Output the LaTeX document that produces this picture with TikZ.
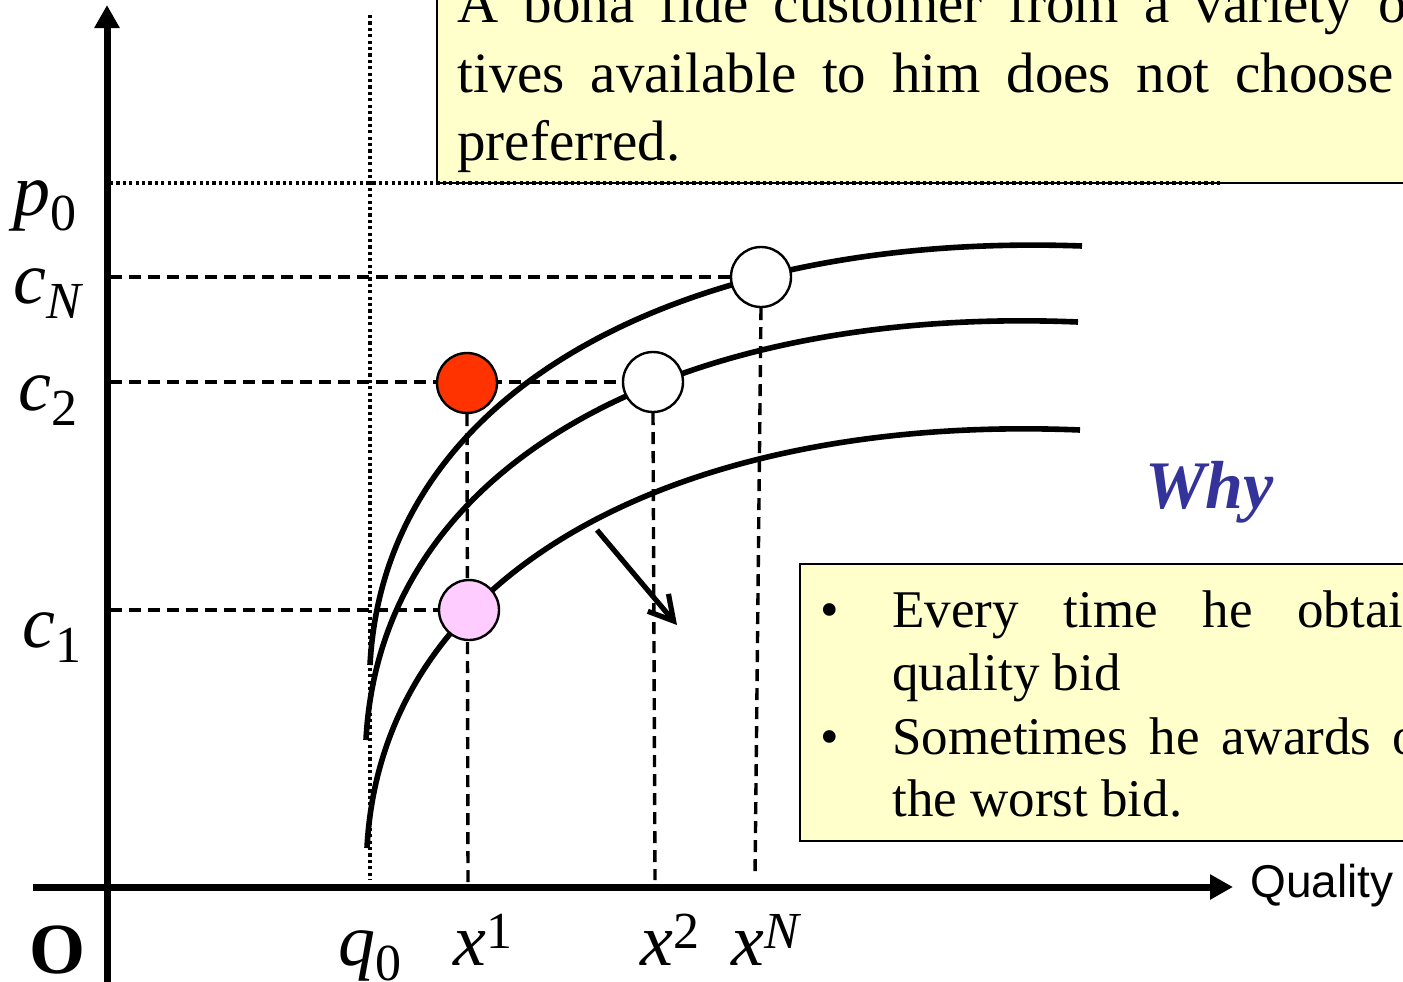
\documentclass[tikz,border=0pt]{standalone}
\usepackage{fontspec}
\setmainfont{Liberation Serif}
\newfontfamily\arialf{Liberation Sans}
\usetikzlibrary{arrows.meta}
\definecolor{boxyellow}{HTML}{FFFFCC}
\definecolor{whyblue}{HTML}{333399}
\definecolor{redpt}{HTML}{FF3300}
\definecolor{pinkpt}{HTML}{FFCCFF}
\newcommand\mainsz{\fontsize{37}{40}\selectfont}
\newcommand\scrsz{\fontsize{26}{28}\selectfont}
\newcommand\lbsub[1]{\raisebox{-7.5pt}{\scrsz #1}}
\newcommand\lbsup[1]{\raisebox{8.5pt}{\scrsz #1}}
\pgfdeclarelayer{back}
\pgfsetlayers{back,main}
\begin{document}
\begin{tikzpicture}[x=0.5pt,y=-0.5pt,
  axisline/.style={line width=3.5pt},
  curveline/.style={line width=2.8pt},
  guide/.style={line width=1.7pt, dash pattern=on 6pt off 3.5pt},
  dotguide/.style={line width=1.8pt, dash pattern=on 1.6pt off 1.6pt},
  ptnode/.style={circle, draw, line width=1.2pt, minimum size=30pt, inner sep=0pt},
  lbl/.style={inner sep=0pt, anchor=base west, font=\mainsz},
  boxtxt/.style={inner sep=0pt, anchor=base west, font=\fontsize{28.5}{30}\selectfont},
  bultxt/.style={inner sep=0pt, anchor=base west, font=\fontsize{26.5}{28}\selectfont},
  yellowbox/.style={draw, fill=boxyellow, line width=0.9pt}]
\clip (0,0) rectangle (1403,981);

% points (drawn on main layer, above lines)
\node[ptnode, fill=white]  (pN) at (761,277) {};
\node[ptnode, fill=white]  (p2) at (653,382) {};
\node[ptnode, fill=redpt]  (pr) at (467,383) {};
\node[ptnode, fill=pinkpt] (pp) at (469,610) {};

% axis coordinates
\coordinate (ybot) at (107,990);
\coordinate (ytop) at (107,5);
\coordinate (xlft) at (33,887);
\coordinate (xrgt) at (1233,887);
\coordinate (yN) at (110,277);
\coordinate (y2) at (110,382);
\coordinate (y1) at (110,610);
\coordinate (yp) at (110,183);
\coordinate (pend) at (1222,183);
\coordinate (qtop) at (370,15);
\coordinate (qbot) at (370,880);
\coordinate (xr1) at (468,882);
\coordinate (xr2) at (655,880);
\coordinate (xrN) at (755,878);
\coordinate (arrS) at (597,530);
\coordinate (arrE) at (677,625);

\begin{pgfonlayer}{back}
  % boxes
  \draw[yellowbox] (437,-20) rectangle (1430,183);
  \draw[yellowbox] (800,564) rectangle (1430,841);
  \node[boxtxt] (t1) at (457,22) {\makebox[474.75pt][s]{A bona fide customer from a variety o}};
  \node[boxtxt] (t2) at (457,92) {\makebox[468pt][s]{tives available to him does not choose}};
  \node[boxtxt] (t3) at (457,160) {preferred.};
  \node[bultxt] (b1) at (820,627) {\textbullet};
  \node[bultxt] (b2) at (820,754) {\textbullet};
  \node[bultxt] (l1) at (892,627) {\makebox[255.5pt][s]{Every time he obtai}};
  \node[bultxt] (l2) at (892,690) {quality bid};
  \node[bultxt] (l3) at (892,754) {\makebox[263.5pt][s]{Sometimes he awards o}};
  \node[bultxt] (l4) at (892,816) {the worst bid.};

  % guides
  \draw[dotguide] (yp) -- (pend);
  \draw[dotguide] (qtop) -- (qbot);
  \draw[guide] (yN) -- (pN.west);
  \draw[guide] (y2) -- (p2.west);
  \draw[guide] (y1) -- (pp.west);
  \draw[guide] (pr.south) -- (xr1);
  \draw[guide] (p2.south) -- (xr2);
  \draw[guide] (pN.south) -- (xrN);

  % curves
  \draw[curveline] (370,665) .. controls (385,380) and (700,232) .. (1082,246);
  \draw[curveline] (366,740) .. controls (381,452) and (696,306) .. (1078,322);
  \draw[curveline] (367,848) .. controls (382,560) and (697,414) .. (1080,430);

  % shift arrow
  \draw[line width=2.6pt, -{Straight Barb[length=12pt,width=13.5pt]}] (arrS) -- (arrE);

  % axes
  \draw[axisline, -{Triangle[length=11.5pt,width=12pt]}] (ybot) -- (ytop);
  \draw[axisline, -{Triangle[length=11.5pt,width=12pt]}] (xlft) -- (xrgt);
\end{pgfonlayer}

% labels
\node[lbl] (lp0) at (13,215) {\textit{p}\lbsub{0}};
\node[lbl] (lcN) at (13,303) {\textit{c}\lbsub{\textit{N}}};
\node[lbl] (lc2) at (18,410) {\textit{c}\lbsub{2}};
\node[lbl] (lc1) at (22,647) {\textit{c}\lbsub{1}};
\node[lbl] (lq0) at (338,965) {\textit{q}\lbsub{0}};
\node[lbl] (lx1) at (453,965) {\textit{x}\lbsup{1}};
\node[lbl] (lx2) at (640,965) {\textit{x}\lbsup{2}};
\node[lbl] (lxN) at (731,965) {\textit{x}\lbsup{\textit{N}}};
\node[inner sep=0pt, anchor=base west, font=\bfseries\fontsize{36}{38}\selectfont] (lO) at (29,973) {O};
\node[inner sep=0pt, anchor=base west, font=\arialf\fontsize{23}{26}\selectfont] (lq) at (1250,897) {Quality};
\node[inner sep=0pt, anchor=base west, text=whyblue, font=\bfseries\itshape\fontsize{34}{36}\selectfont] (why) at (1145,508) {Why};
\end{tikzpicture}
\end{document}
